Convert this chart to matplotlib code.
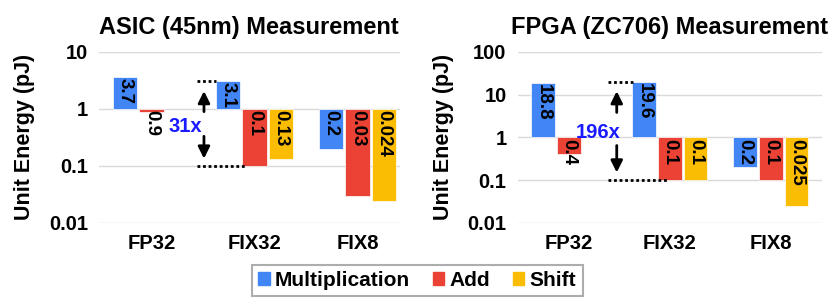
import numpy as np
import matplotlib.pyplot as plt
from matplotlib.patches import Patch

plt.rcParams['font.family'] = ['Liberation Sans', 'DejaVu Sans']
plt.rcParams['font.weight'] = 'bold'

categories = ['FP32', 'FIX32', 'FIX8']
series = ['Multiplication', 'Add', 'Shift']
colors = ['#4285F4', '#EA4335', '#FBBC04']

asic_mult = [3.7, 3.1, 0.2]
asic_add = [0.9, 0.1, 0.03]
asic_shift = [np.nan, 0.13, 0.024]
asic_labels = [['3.7', '3.1', '0.2'], ['0.9', '0.1', '0.03'], ['', '0.13', '0.024']]

fpga_mult = [18.8, 19.6, 0.2]
fpga_add = [0.4, 0.1, 0.1]
fpga_shift = [np.nan, 0.1, 0.025]
fpga_labels = [['18.8', '19.6', '0.2'], ['0.4', '0.1', '0.1'], ['', '0.1', '0.025']]

fig = plt.figure(figsize=(8.31, 3.0), dpi=100)
ax1 = fig.add_axes([0.119, 0.257, 0.362, 0.570])
ax2 = fig.add_axes([0.623, 0.257, 0.366, 0.570])

w = 0.235
step = 0.255
fs = 14.5


def draw(ax, data, labels, ylim, yticks, yticklabels, xlim):
    x = np.arange(len(categories))
    for i, vals in enumerate(data):
        vals = np.array(vals, dtype=float)
        pos = x + (i - 1) * step
        ax.bar(pos, vals - 1, bottom=1, width=w, color=colors[i],
               edgecolor='white', linewidth=0.5, zorder=2)
        for p, v, t in zip(pos, vals, labels[i]):
            if np.isnan(v):
                continue
            ytop = max(v, 1.0)
            ax.text(p, ytop * 0.94, t, rotation=270, ha='center', va='top',
                    fontsize=13.5, fontweight='bold', color='black', zorder=3)
    ax.set_yscale('log')
    ax.set_ylim(*ylim)
    ax.set_xlim(*xlim)
    ax.set_yticks(yticks)
    ax.set_yticklabels(yticklabels, fontsize=fs, fontweight='bold')
    ax.minorticks_off()
    ax.set_xticks(x)
    ax.set_xticklabels(categories, fontsize=fs, fontweight='bold')
    ax.tick_params(length=0, pad=8)
    ax.grid(axis='y', color='#d9d9d9', linewidth=1, zorder=0)
    for s in ax.spines.values():
        s.set_visible(False)
    ax.set_ylabel('Unit Energy (pJ)', fontsize=15.5, fontweight='bold', labelpad=10)


draw(ax1, [asic_mult, asic_add, asic_shift], asic_labels, (0.01, 10),
     [0.01, 0.1, 1, 10], ['0.01', '0.1', '1', '10'], (-0.51, 2.41))
draw(ax2, [fpga_mult, fpga_add, fpga_shift], fpga_labels, (0.01, 100),
     [0.01, 0.1, 1, 10, 100], ['0.01', '0.1', '1', '10', '100'], (-0.505, 2.505))

ax1.set_title('ASIC (45nm) Measurement', fontsize=17, fontweight='bold', pad=13)
ax2.set_title('FPGA (ZC706) Measurement', fontsize=17, fontweight='bold', pad=13)

# ratio annotations
arrow = dict(arrowstyle='-|>,head_width=0.35,head_length=0.7', color='black', lw=2)
dots = (0, (1, 1))
ax1.plot([0.44, 0.63], [3.1, 3.1], ls=dots, color='black', lw=2, zorder=4)
ax1.plot([0.44, 0.92], [0.1, 0.1], ls=dots, color='black', lw=2, zorder=4)
ax1.annotate('', xy=(0.51, 2.3), xytext=(0.51, 0.8), arrowprops=arrow)
ax1.annotate('', xy=(0.51, 0.12), xytext=(0.51, 0.37), arrowprops=arrow)
ax1.text(0.33, 0.5, '31x', color='#1a1aff', fontsize=14.5, fontweight='bold',
         ha='center', va='center')

ax2.plot([0.39, 0.64], [19.6, 19.6], ls=dots, color='black', lw=2, zorder=4)
ax2.plot([0.39, 0.97], [0.1, 0.1], ls=dots, color='black', lw=2, zorder=4)
ax2.annotate('', xy=(0.475, 14), xytext=(0.475, 3.3), arrowprops=arrow)
ax2.annotate('', xy=(0.475, 0.13), xytext=(0.475, 0.75), arrowprops=arrow)
ax2.text(0.29, 1.3, '196x', color='#1a1aff', fontsize=14.5, fontweight='bold',
         ha='center', va='center')

handles = [Patch(color=c) for c in colors]
leg = fig.legend(handles, series, loc='center', bbox_to_anchor=(0.502, 0.065),
                 ncol=3, fontsize=15, frameon=True, fancybox=False,
                 handlelength=0.55, handleheight=0.55, handletextpad=0.25,
                 columnspacing=1.1, borderpad=0.3)
leg.get_frame().set_edgecolor('#999999')
leg.get_frame().set_linewidth(1.5)
for t in leg.get_texts():
    t.set_fontweight('bold')

fig.savefig('out.png', dpi=100)
